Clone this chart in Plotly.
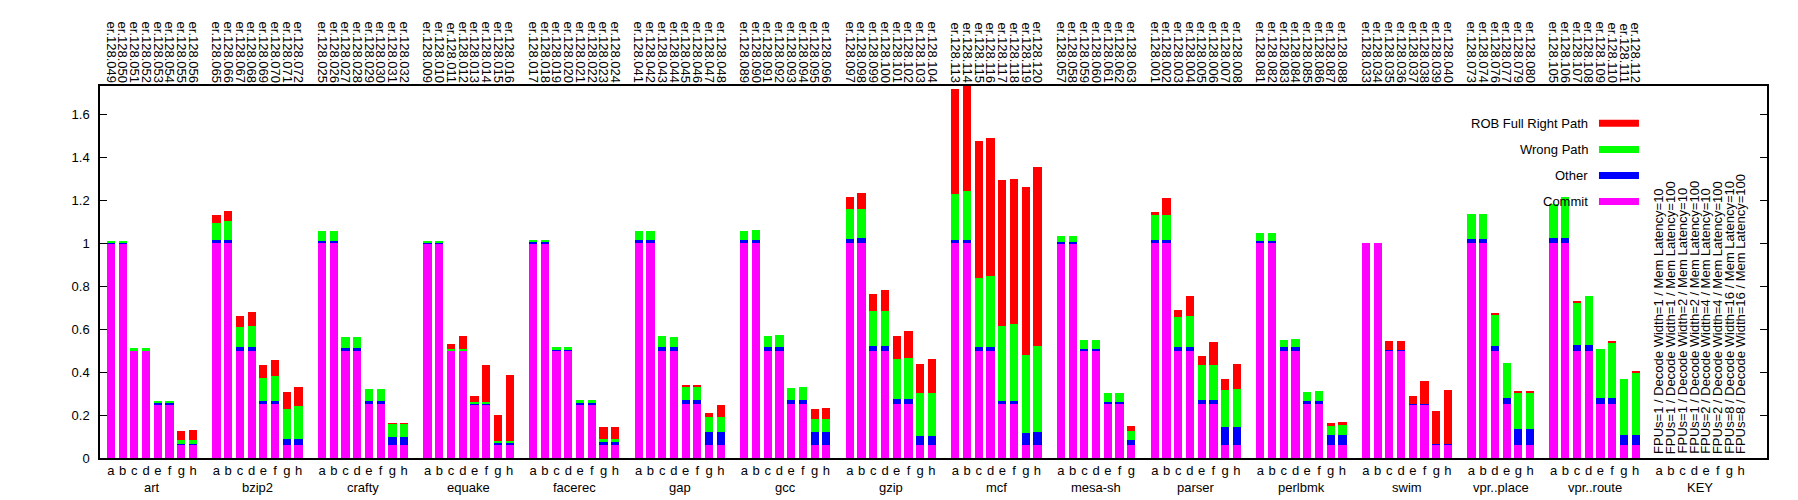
import plotly.graph_objects as go

# ── Data ──────────────────────────────────────────────────────────────────────

groups = ["art", "bzip2", "crafty", "equake", "facerec", "gap", "gcc", "gzip",
          "mcf", "mesa-sh", "parser", "perlbmk", "swim", "vpr..place",
          "vpr..route", "KEY"]
group_bars = ["abcdefgh", "abcdefgh", "abcdefgh", "abcdefgh", "abcdefgh",
              "abcdefgh", "abcdefgh", "abcdefgh", "abcdefgh", "abcdefg",
              "abcdefgh", "abcdefgh", "abcdefgh", "abdegh", "abcdefgh",
              "abcdefgh"]
run_ids = [
    [49, 50, 51, 52, 53, 54, 55, 56],
    [65, 66, 67, 68, 69, 70, 71, 72],
    [25, 26, 27, 28, 29, 30, 31, 32],
    [9, 10, 11, 12, 13, 14, 15, 16],
    [17, 18, 19, 20, 21, 22, 23, 24],
    [41, 42, 43, 44, 45, 46, 47, 48],
    [89, 90, 91, 92, 93, 94, 95, 96],
    [97, 98, 99, 100, 101, 102, 103, 104],
    [113, 114, 115, 116, 117, 118, 119, 120],
    [57, 58, 59, 60, 61, 62, 63],
    [1, 2, 3, 4, 5, 6, 7, 8],
    [81, 82, 83, 84, 85, 86, 87, 88],
    [33, 34, 35, 36, 37, 38, 39, 40],
    [73, 74, 76, 77, 79, 80],
    [105, 106, 107, 108, 109, 110, 111, 112],
    [],
]
key_text = [
    "FPUs=1 / Decode Width=1 / Mem Latency=10",
    "FPUs=1 / Decode Width=1 / Mem Latency=100",
    "FPUs=1 / Decode Width=2 / Mem Latency=10",
    "FPUs=1 / Decode Width=2 / Mem Latency=100",
    "FPUs=2 / Decode Width=4 / Mem Latency=10",
    "FPUs=2 / Decode Width=4 / Mem Latency=100",
    "FPUs=8 / Decode Width=16 / Mem Latency=10",
    "FPUs=8 / Decode Width=16 / Mem Latency=100",
]

commit = [
    1, 1, .5, .5, .25, .25, .0625, .0625,          # art
    1, 1, .5, .5, .25, .25, .0625, .0625,          # bzip2
    1, 1, .5, .5, .25, .25, .0625, .0625,          # crafty
    1, 1, .5, .5, .25, .25, .0625, .0625,          # equake
    1, 1, .5, .5, .25, .25, .0625, .0625,          # facerec
    1, 1, .5, .5, .25, .25, .0625, .0625,          # gap
    1, 1, .5, .5, .25, .25, .0625, .0625,          # gcc
    1, 1, .5, .5, .25, .25, .0625, .0625,          # gzip
    1, 1, .5, .5, .25, .25, .0625, .0625,          # mcf
    1, 1, .5, .5, .25, .25, .0625,                 # mesa-sh
    1, 1, .5, .5, .25, .25, .0625, .0625,          # parser
    1, 1, .5, .5, .25, .25, .0625, .0625,          # perlbmk
    1, 1, .5, .5, .25, .25, .0625, .0625,          # swim
    1, 1, .5, .25, .0625, .0625,                   # vpr..place
    1, 1, .5, .5, .25, .25, .0625, .0625,          # vpr..route
]
other = [
    .002, .002, .003, .003, .004, .004, .005, .005,
    .016, .016, .015, .016, .016, .016, .028, .028,
    .012, .012, .013, .013, .017, .017, .034, .034,
    .002, .002, .003, .003, .004, .004, .006, .006,
    .004, .004, .004, .004, .004, .004, .010, .010,
    .015, .015, .016, .016, .018, .018, .060, .057,
    .015, .015, .016, .016, .018, .018, .060, .060,
    .021, .023, .022, .022, .024, .024, .039, .039,
    .014, .014, .016, .016, .017, .017, .056, .060,
    .008, .008, .010, .010, .010, .010, .022,
    .017, .017, .019, .019, .021, .021, .084, .084,
    .011, .011, .015, .015, .016, .016, .043, .043,
    0, 0, .002, .002, .002, .002, .002, .002,
    .020, .020, .024, .028, .073, .073,
    .023, .023, .026, .026, .029, .029, .045, .045,
]
wrong_path = [
    .009, .009, .009, .009, .013, .013, .015, .015,
    .080, .088, .095, .100, .108, .116, .139, .150,
    .045, .045, .049, .049, .055, .055, .062, .062,
    .008, .008, .005, .005, .008, .008, .012, .012,
    .011, .011, .014, .014, .016, .016, .016, .016,
    .042, .042, .051, .048, .067, .064, .067, .072,
    .042, .047, .054, .058, .059, .064, .059, .061,
    .139, .137, .163, .163, .188, .191, .203, .203,
    .215, .228, .323, .332, .349, .358, .363, .400,
    .026, .026, .040, .040, .042, .042, .042,
    .115, .115, .137, .141, .160, .163, .170, .173,
    .036, .037, .035, .040, .042, .046, .048, .048,
    0, 0, 0, 0, 0, 0, 0, 0,
    .116, .116, .146, .164, .169, .169,
    .161, .191, .200, .229, .228, .257, .259, .290,
]
rob_full = [
    0, 0, 0, 0, 0, 0, .045, .050,
    .036, .048, .051, .066, .059, .074, .076, .092,
    0, 0, 0, 0, 0, 0, .003, .003,
    0, 0, .022, .061, .027, .171, .120, .308,
    0, 0, 0, 0, 0, 0, .056, .058,
    0, 0, 0, 0, .005, .006, .022, .054,
    0, 0, 0, 0, 0, 0, .047, .051,
    .055, .074, .081, .098, .107, .126, .135, .158,
    .492, .510, .640, .642, .677, .674, .779, .831,
    0, 0, 0, 0, 0, 0, .023,
    .014, .077, .034, .093, .043, .106, .053, .117,
    0, 0, 0, 0, 0, 0, .008, .013,
    0, 0, .042, .042, .038, .108, .155, .253,
    0, 0, .002, 0, .008, .008,
    0, 0, .003, 0, 0, .005, 0, .008,
]

series_names = ["Commit", "Other", "Wrong Path", "ROB Full Right Path"]
series_values = [commit, other, wrong_path, rob_full]
series_colors = ["#ff00ff", "#0000ff", "#00ff00", "#ff0000"]

# ── Slot positions (one empty slot between clusters) ─────────────────────────

positions, letters, top_labels, centers = [], [], [], []
slot = 0
for gi, bars in enumerate(group_bars):
    start = slot
    for j, letter in enumerate(bars):
        positions.append(slot)
        letters.append(letter)
        if run_ids[gi]:
            top_labels.append("er.128.%03d" % run_ids[gi][j])
        slot += 1
    centers.append((start + slot - 1) / 2)
    slot += 1

n_data = len(commit)
data_pos = positions[:n_data]
key_pos = positions[n_data:]

FONT = "Liberation Sans, Arial, sans-serif"

fig = go.Figure()
for name, vals, color in zip(series_names, series_values, series_colors):
    fig.add_trace(go.Bar(
        x=data_pos, y=vals, name=name, width=0.7,
        marker=dict(color=color, line=dict(width=0)),
        showlegend=False,
        hovertemplate=name + ": %{y}<extra></extra>",
    ))

# invisible trace so the top axis is drawn
fig.add_trace(go.Scatter(x=data_pos, y=[0] * n_data, xaxis="x2",
                         mode="markers", marker=dict(opacity=0),
                         showlegend=False, hoverinfo="skip"))

# ── Layout ────────────────────────────────────────────────────────────────────

x_range = [-0.93, 141.2]
fig.update_layout(
    width=1798, height=500, autosize=False,
    barmode="stack",
    paper_bgcolor="white", plot_bgcolor="white",
    font=dict(family=FONT, size=13, color="black"),
    margin=dict(l=100, r=31, t=86, b=42),
    xaxis=dict(range=x_range, tickvals=positions, ticktext=letters,
               ticks="", showgrid=False, zeroline=False,
               showline=True, linecolor="black", linewidth=1.5, mirror=True,
               tickangle=0),
    xaxis2=dict(range=x_range, overlaying="x", side="top",
                tickvals=data_pos, ticktext=top_labels, tickangle=90,
                ticks="", showgrid=False, zeroline=False, showline=False),
    yaxis=dict(range=[0, 1.733], dtick=0.2, ticks="inside", ticklen=7,
               tickcolor="black", showline=True, linecolor="black",
               linewidth=1.5, mirror="ticks", showgrid=False,
               zeroline=False, ticklabelstandoff=6),
)

# cluster names under the letters
for name, cx in zip(groups, centers):
    fig.add_annotation(x=cx, y=-0.079, xref="x", yref="paper", text=name,
                       showarrow=False, yanchor="middle", font=dict(size=13))

# KEY descriptions
for kx, txt in zip(key_pos, key_text):
    fig.add_annotation(x=kx, y=0.01, xref="x", yref="y", text=txt,
                       textangle=-90, showarrow=False, yanchor="bottom",
                       xanchor="center", font=dict(size=13))

# gnuplot style key: text right-aligned, swatch on the right
key_rows = [0.900, 0.8293, 0.7595, 0.6897]
for row_y, name, color in zip(key_rows, series_names[::-1], series_colors[::-1]):
    fig.add_annotation(x=0.8938, y=row_y, xref="paper", yref="paper",
                       text=name, showarrow=False, xanchor="right",
                       yanchor="middle", font=dict(size=13))
    fig.add_shape(type="rect", xref="paper", yref="paper",
                  x0=0.8992, x1=0.9232, y0=row_y - 0.0094, y1=row_y + 0.0094,
                  fillcolor=color, line=dict(width=0))

fig.write_html("out.html", config={"displayModeBar": False},
               post_script="document.body.style.margin='0';")
